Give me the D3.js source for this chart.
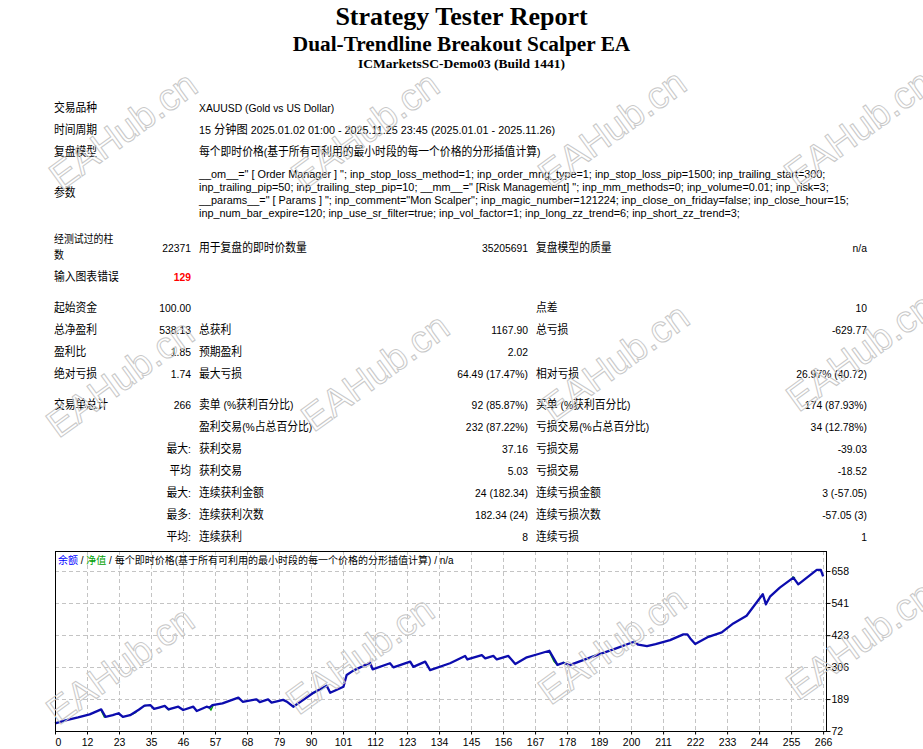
<!DOCTYPE html>
<html>
<head>
<meta charset="utf-8">
<script src="https://cdn.jsdelivr.net/npm/d3@7"></script>
<style>
body { margin: 0; background: #fff; }
text { white-space: pre; }
</style>
</head>
<body>
<svg id="page" width="923" height="749"></svg>
<script>
// header
const titles = ['Strategy Tester Report', 'Dual-Trendline Breakout Scalper EA', 'ICMarketsSC-Demo03 (Build 1441)'];

// settings block
const infoLabels = ['交易品种', '时间周期', '复盘模型', '参数'];
const infoValues = [
  'XAUUSD (Gold vs US Dollar)',
  '15 分钟图 2025.01.02 01:00 - 2025.11.25 23:45 (2025.01.01 - 2025.11.26)',
  '每个即时价格(基于所有可利用的最小时段的每一个价格的分形插值计算)'
];
const paramLines = [
  '__om__=" [ Order Manager ] "; inp_stop_loss_method=1; inp_order_mng_type=1; inp_stop_loss_pip=1500; inp_trailing_start=300;',
  'inp_trailing_pip=50; inp_trailing_step_pip=10; __mm__=" [Risk Management] "; inp_mm_methods=0; inp_volume=0.01; inp_risk=3;',
  '__params__=" [ Params ] "; inp_comment="Mon Scalper"; inp_magic_number=121224; inp_close_on_friday=false; inp_close_hour=15;',
  'inp_num_bar_expire=120; inp_use_sr_filter=true; inp_vol_factor=1; inp_long_zz_trend=6; inp_short_zz_trend=3;'
];
const barsRow = ['经测试过的柱', '数', '22371', '用于复盘的即时价数量', '35205691', '复盘模型的质量', 'n/a'];
const errorRow = ['输入图表错误', '129'];

// results
const statRows = [
  ['起始资金', '100.00', '', '', '点差', '10'],
  ['总净盈利', '538.13', '总获利', '1167.90', '总亏损', '-629.77'],
  ['盈利比', '1.85', '预期盈利', '2.02', '', ''],
  ['绝对亏损', '1.74', '最大亏损', '64.49 (17.47%)', '相对亏损', '26.97% (40.72)']
];
const tradeRows = [
  ['交易单总计', '266', '卖单 (%获利百分比)', '92 (85.87%)', '买单 (%获利百分比)', '174 (87.93%)'],
  ['', '', '盈利交易(%占总百分比)', '232 (87.22%)', '亏损交易(%占总百分比)', '34 (12.78%)'],
  ['', '最大:', '获利交易', '37.16', '亏损交易', '-39.03'],
  ['', '平均', '获利交易', '5.03', '亏损交易', '-18.52'],
  ['', '最大:', '连续获利金额', '24 (182.34)', '连续亏损金额', '3 (-57.05)'],
  ['', '最多:', '连续获利次数', '182.34 (24)', '连续亏损次数', '-57.05 (3)'],
  ['', '平均:', '连续获利', '8', '连续亏损', '1']
];

// chart
const xLabels = ['0','12','23','35','46','57','68','79','90','101','112','123','134','145','156','167','178','189','200','211','222','233','244','255','266'];
const yLabels = [72, 189, 306, 423, 541, 658];
const legendParts = ['余额', ' / ', '净值', ' / 每个即时价格(基于所有可利用的最小时段的每一个价格的分形插值计算) / n/a'];

// balance after trade n
const balance = [
  [0,100],[4,112],[8,122],[12,133],[16,151],[17.5,124],[20,130],[22,137],[23.5,124],[26,130],
  [29,150],[31,165],[33,167],[34.3,153],[36,158],[38,164],[39.3,151],[42.7,161],[44.4,149],[47.9,161],
  [49.1,145],[52.5,161],[53.5,158],[54.5,167],[58,173],[63.5,194],[65,179],[69.8,188],[70.9,178],[73.8,188],
  [75,176],[79,186],[80.5,178],[82.5,161],[86,186],[89.5,212],[94.1,238],[95.3,212],[99.9,234],[101,277],
  [103.3,293],[109.1,322],[110,298],[116,320],[117.2,305],[123,326],[124.1,307],[128.2,326],[129.9,295],[136.8,320],
  [142,347],[142.8,334],[147.8,350],[149,338],[151.8,347],[153,334],[157,347],[159.4,317],[163.4,342],[167.4,354],
  [171.2,366],[174,314],[176.1,322],[178.2,313],[187.6,350],[193.4,371],[200.5,399],[202,388],[205,383],[208,390],
  [213,405],[217.6,426],[219,426],[220,411],[221.7,391],[226.3,417],[230.9,433],[234.9,466],[239.5,494],[245.1,573],
  [246.2,536],[247.6,564],[251,597],[255.7,634],[257.4,609],[263.8,662],[265.2,662],[266,638]
];
// short stretches where equity shows below balance
const equityDips = [
  [[15.8,151],[17.2,121]],
  [[26.8,134],[28.2,141]],
  [[30.5,162],[31.6,166]],
  [[38.8,157],[39.6,148]],
  [[53.2,160],[54,149],[54.7,164]],
  [[89,209],[90.2,214]],
  [[171,366],[172.8,327],[174.2,311]],
  [[175.8,324],[177,318]],
  [[225.8,416],[227,421]],
  [[255.2,636],[256.3,633]]
];

const svg = d3.select('#page');
const SX = 0.9;
const cjkRe = /[\u3000-\u9fff\uff00-\uffef]/;

function put(g, x, y, str, o = {}) {
  const t = g.append('text')
    .attr('transform', 'translate(' + x + ',' + y + ') scale(' + (o.sx || SX) + ',1)')
    .attr('text-anchor', o.anchor || 'start')
    .attr('fill', o.color || '#000')
    .attr('font-weight', o.bold ? 'bold' : null);
  String(str).split(/([\u3000-\u9fff\uff00-\uffef]+)/).filter(s => s).forEach(s => {
    const cjk = cjkRe.test(s);
    t.append('tspan').text(s)
      .attr('font-family', cjk ? '"Noto Sans CJK SC"' : '"Liberation Sans"')
      .attr('font-size', cjk ? (o.cjk || 12) : (o.size || 11.5));
  });
  return t;
}

// titles
const serifSizes = [26, 21.3, 13.5];
const serifBase = [25, 51, 68];
titles.forEach((s, i) => {
  svg.append('text')
    .attr('x', 461.5).attr('y', serifBase[i])
    .attr('text-anchor', 'middle')
    .attr('font-family', '"Liberation Serif"')
    .attr('font-weight', 'bold')
    .attr('font-size', serifSizes[i])
    .text(s);
});

const tbl = svg.append('g');
const c1 = 54, c2 = 191, c3 = 199, c4 = 528, c5 = 536, c6 = 867;

[108, 130, 152].forEach((cy, i) => {
  put(tbl, c1, cy + 4, infoLabels[i]);
  put(tbl, c3, cy + 4, infoValues[i], {sx: i === 1 ? 0.94 : SX});
});
put(tbl, c1, 197, infoLabels[3]);
paramLines.forEach((s, i) => put(tbl, c3, 178 + i * 13, s, {sx: 0.945}));

put(tbl, c1, 243, barsRow[0], {cjk: 11});
put(tbl, c1, 259, barsRow[1], {cjk: 11});
put(tbl, c2, 252, barsRow[2], {anchor: 'end'});
put(tbl, c3, 252, barsRow[3]);
put(tbl, c4, 252, barsRow[4], {anchor: 'end'});
put(tbl, c5, 252, barsRow[5]);
put(tbl, c6, 252, barsRow[6], {anchor: 'end'});

put(tbl, c1, 281, errorRow[0]);
put(tbl, c2, 281, errorRow[1], {anchor: 'end', color: '#ff0000', bold: true});

function row(r, base) {
  if (r[0]) put(tbl, c1, base, r[0]);
  if (r[1]) put(tbl, c2, base, r[1], {anchor: 'end'});
  if (r[2]) put(tbl, c3, base, r[2]);
  if (r[3]) put(tbl, c4, base, r[3], {anchor: 'end'});
  if (r[4]) put(tbl, c5, base, r[4]);
  if (r[5]) put(tbl, c6, base, r[5], {anchor: 'end'});
}
statRows.forEach((r, i) => row(r, 312 + i * 22));
tradeRows.forEach((r, i) => row(r, 409 + i * 22));

// equity chart
const cLeft = 55, cRight = 826, cTop = 551, cBottom = 731;
const x = d3.scaleLinear().domain([0, 267]).range([cLeft, cRight]);
const y = d3.scaleLinear().domain([72, 731.25]).range([cBottom, cTop]);
const xTicks = xLabels.map((d, k) => k * 266 / 24);

const chart = svg.append('g');

chart.append('g').selectAll('line')
  .data(xTicks.slice(1))
  .enter().append('line')
  .attr('x1', d => Math.round(x(d)) + 0.5).attr('x2', d => Math.round(x(d)) + 0.5)
  .attr('y1', cTop).attr('y2', cBottom)
  .attr('stroke', '#c4c4c4').attr('stroke-dasharray', '4,3');

chart.append('g').selectAll('line')
  .data(yLabels.slice(1))
  .enter().append('line')
  .attr('x1', cLeft).attr('x2', cRight)
  .attr('y1', d => Math.round(y(d)) + 0.5).attr('y2', d => Math.round(y(d)) + 0.5)
  .attr('stroke', '#c4c4c4').attr('stroke-dasharray', '4,3');

const line = d3.line().x(d => x(d[0])).y(d => y(d[1]));

chart.append('g').selectAll('path')
  .data(equityDips)
  .enter().append('path')
  .attr('d', line)
  .attr('fill', 'none')
  .attr('stroke', '#00a000')
  .attr('stroke-width', 1.4);

chart.append('path')
  .datum(balance)
  .attr('d', line)
  .attr('fill', 'none')
  .attr('stroke', '#0c0cae')
  .attr('stroke-width', 2.3)
  .attr('stroke-linejoin', 'round');

chart.append('rect')
  .attr('x', cLeft + 0.5).attr('y', cTop + 0.5)
  .attr('width', cRight - cLeft).attr('height', cBottom - cTop)
  .attr('fill', 'none').attr('stroke', '#000');

const xAxis = d3.axisBottom(x).tickValues(xTicks).tickFormat((d, k) => xLabels[k]).tickSize(3).tickSizeOuter(0);
const yAxis = d3.axisRight(y).tickValues(yLabels).tickSize(4).tickSizeOuter(0);

const gx = chart.append('g').attr('transform', 'translate(0,' + (cBottom + 0.5) + ')').call(xAxis);
const gy = chart.append('g').attr('transform', 'translate(' + (cRight + 0.5) + ',0)').call(yAxis);
[gx, gy].forEach(g => {
  g.select('.domain').remove();
  g.selectAll('line').attr('stroke', '#000');
  g.selectAll('text')
    .attr('font-family', '"Liberation Sans"')
    .attr('font-size', 10.5)
    .attr('fill', '#000');
});
gx.selectAll('text').attr('y', 7).attr('dx', (d, k) => k === 0 ? 3 : 0);
gy.selectAll('text').attr('x', 5);

// legend
const lg = chart.append('text')
  .attr('x', 58).attr('y', 564)
  .attr('font-size', 10);
const legendColors = ['#0000ff', '#000', '#00a000', '#000'];
legendParts.forEach((s, i) => {
  s.split(/([\u3000-\u9fff\uff00-\uffef]+)/).filter(p => p).forEach(p => {
    lg.append('tspan').text(p)
      .attr('fill', legendColors[i])
      .attr('font-family', cjkRe.test(p) ? '"Noto Sans CJK SC"' : '"Liberation Sans"');
  });
});

// watermarks
const marks = [
  [123,130],[365,130],[612,128],[858,128],
  [120,378],[375,372],[615,362],[860,352],
  [120,665],[360,655],[612,645],[860,640]
];
svg.append('g').selectAll('text')
  .data(marks)
  .enter().append('text')
  .attr('transform', d => 'translate(' + d[0] + ',' + d[1] + ') rotate(-36)')
  .attr('text-anchor', 'middle')
  .attr('dy', '0.35em')
  .attr('font-family', '"Liberation Sans"')
  .attr('font-size', 38)
  .attr('fill', 'none')
  .attr('stroke', '#c8c8c8')
  .attr('stroke-width', 1)
  .text('EAHub.cn');
</script>
</body>
</html>
